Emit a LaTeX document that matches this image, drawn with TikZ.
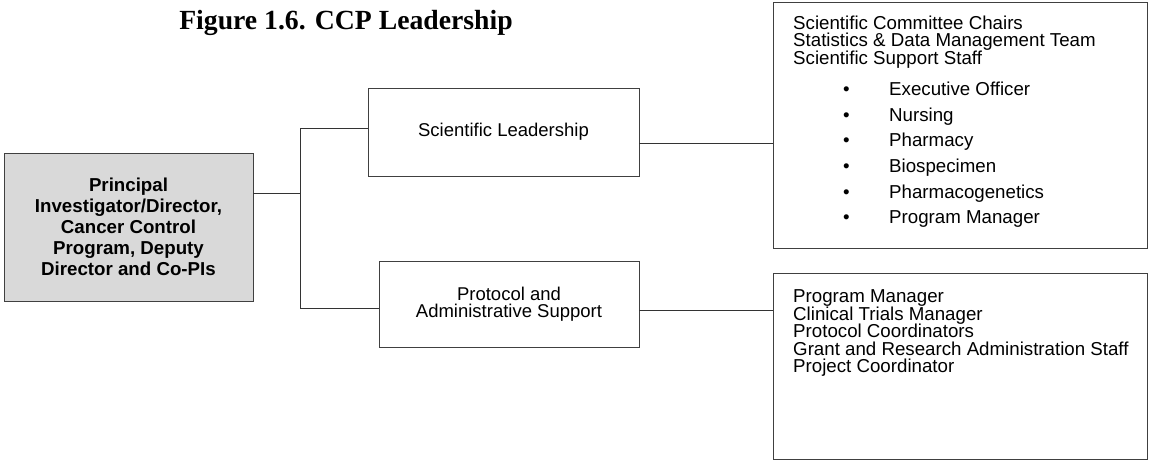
\documentclass[tikz,border=0pt]{standalone}
\usepackage{fontspec}
\setmainfont{Liberation Serif}
\newfontfamily\arial{Liberation Sans}
\definecolor{boxgray}{HTML}{D9D9D9}
\begin{document}
\begin{tikzpicture}[x=1pt,y=-1pt,
  box/.style={draw=black!75, line width=0.9pt, inner sep=0pt},
  conn/.style={draw=black!80, line width=0.9pt},
  txt/.style={font=\arial\fontsize{18.7}{17.5}\selectfont, anchor=base west, inner sep=0pt},
  ctxt/.style={font=\arial\fontsize{18.5}{17.5}\selectfont, align=center}
]
\useasboundingbox (0,0) rectangle (1156,470);
% title
\node[anchor=base, inner sep=0pt, font=\bfseries\fontsize{27.7}{30}\selectfont] (title) at (346,30) {Figure 1.6. CCP Leadership};
% boxes
\node[box, fill=boxgray, minimum width=249pt, minimum height=148pt,
      font=\arial\bfseries\fontsize{18.7}{21}\selectfont, align=center] (pi) at (128.5,227)
  {Principal\\Investigator/Director,\\Cancer Control\\Program, Deputy\\Director and Co-PIs};
\node[box, ctxt, minimum width=271pt, minimum height=88pt] (sl) at (503.5,132) {Scientific Leadership};
\node[box, ctxt, minimum width=260pt, minimum height=86pt] (pas) at (509,304) {Protocol and\\Administrative Support};
\node[box, minimum width=374pt, minimum height=246pt] (rt) at (960,125) {};
\node[box, minimum width=374pt, minimum height=186pt] (rb) at (960,366) {};
% connectors
\coordinate (j1) at (300,193);
\coordinate (jt) at (300,128);
\coordinate (jb) at (300,308);
\coordinate (c1) at (700,143);
\coordinate (c2) at (700,310);
\draw[conn] (pi.east |- j1) -- (j1);
\draw[conn] (sl.west |- jt) -- (jt) -- (jb) -- (pas.west |- jb);
\draw[conn] (sl.east |- c1) -- (rt.west |- c1);
\draw[conn] (pas.east |- c2) -- (rb.west |- c2);
% top right contents
\node[txt] (t1) at (793,29.5) {Scientific Committee Chairs};
\node[txt] (t2) at (793,47) {Statistics \& Data Management Team};
\node[txt] (t3) at (793,64.5) {Scientific Support Staff};
\node[txt] (b1) at (843,95.5) {\textbullet};
\node[txt] (i1) at (889,95.5) {Executive Officer};
\node[txt] (b2) at (843,121.5) {\textbullet};
\node[txt] (i2) at (889,121.5) {Nursing};
\node[txt] (b3) at (843,147) {\textbullet};
\node[txt] (i3) at (889,147) {Pharmacy};
\node[txt] (b4) at (843,172.5) {\textbullet};
\node[txt] (i4) at (889,172.5) {Biospecimen};
\node[txt] (b5) at (843,198.5) {\textbullet};
\node[txt] (i5) at (889,198.5) {Pharmacogenetics};
\node[txt] (b6) at (843,224) {\textbullet};
\node[txt] (i6) at (889,224) {Program Manager};
% bottom right contents
\node[txt] (r1) at (793,302.5) {Program Manager};
\node[txt] (r2) at (793,320) {Clinical Trials Manager};
\node[txt] (r3) at (793,337.5) {Protocol Coordinators};
\node[txt] (r4) at (793,355) {Grant and Research Administration Staff};
\node[txt] (r5) at (793,372.5) {Project Coordinator};
\end{tikzpicture}
\end{document}
